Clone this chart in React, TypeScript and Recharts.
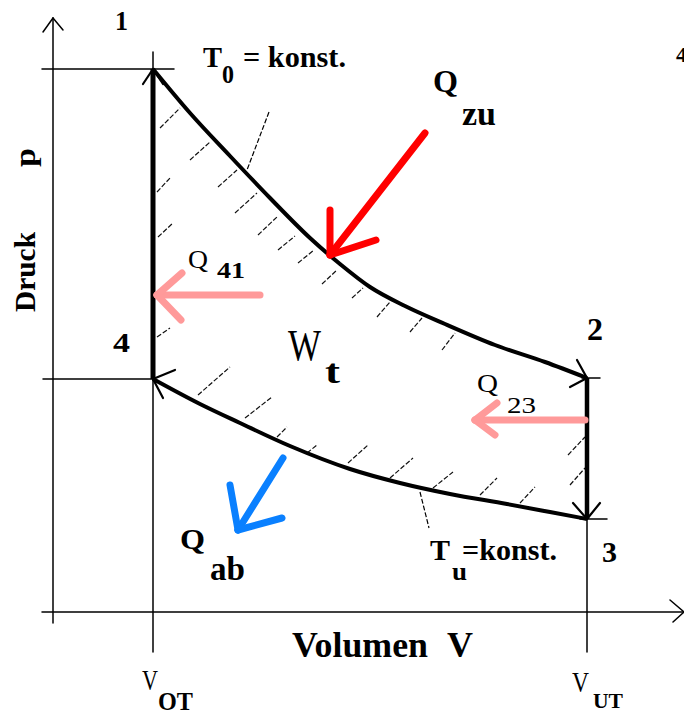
import React from 'react';
import { ComposedChart, Line, XAxis, YAxis, ReferenceLine, ReferenceDot } from 'recharts';

// ---- data (V in arbitrary volume units, p in arbitrary pressure units) ----
const V_OT = 1.0;
const V_UT = 5.34;
const P1 = 5.43;
const P2 = 2.34;
const P3 = 0.93;
const P4 = 2.33;

// isotherm T0 (1 -> 2)
const UPPER_V = [1.0, 1.37, 1.77, 2.17, 2.57, 2.87, 3.17, 3.52, 3.92, 4.42, 4.92, 5.34];
const UPPER_P = [5.43, 4.99, 4.56, 4.14, 3.74, 3.48, 3.25, 3.06, 2.88, 2.67, 2.5, 2.34];
// isotherm Tu (3 -> 4)
const LOWER_V = [1.0, 1.47, 1.87, 2.37, 2.97, 3.47, 3.97, 4.54, 4.97, 5.34];
const LOWER_P = [2.33, 2.08, 1.89, 1.66, 1.43, 1.29, 1.18, 1.08, 1.0, 0.93];

const upperData = UPPER_V.map((V, i) => ({ V, p: UPPER_P[i] }));
const lowerData = LOWER_V.map((V, i) => ({ V, p: LOWER_P[i] }));
const iso41 = [{ V: V_OT, p: P1 }, { V: V_OT, p: P4 }];
const iso23 = [{ V: V_UT, p: P2 }, { V: V_UT, p: P3 }];

// ---- annotation geometry (in data units) ----
type S = [number, number, number, number];

const AXES: S[] = [
  [0, -0.11, 0, 5.94],
  [-0.1, 5.8, 0, 5.94],
  [0.1, 5.82, 0, 5.94],
  [-0.11, 0, 6.31, 0],
  [6.17, 0.12, 6.31, 0],
  [6.2, -0.1, 6.31, 0],
];
const GUIDES: S[] = [
  [-0.11, P1, 1.21, P1],
  [V_OT, P1, V_OT, 5.6],
  [-0.1, P4, V_OT, P4],
  [V_OT, P4, V_OT, -0.4],
  [V_UT, P2, V_UT, -0.4],
  [5.29, P2, 5.47, P2],
  [5.27, P3, 5.54, P3],
];
const HEADS: S[] = [
  [0.9, 5.28, V_OT, P1],
  [1.1, 5.28, V_OT, P1],
  [5.17, 2.25, V_UT, P2],
  [5.24, 2.52, V_UT, P2],
  [5.2, 1.09, V_UT, P3],
  [5.47, 1.09, V_UT, P3],
  [1.22, 2.42, V_OT, P4],
  [1.1, 2.14, V_OT, P4],
];
const LEADERS: S[] = [
  [2.16, 5.0, 1.94, 4.42],
  [3.67, 1.2, 3.76, 0.84],
];
const HATCH: S[] = [
  [1.07, 4.84, 1.27, 5.04],
  [1.37, 4.52, 1.57, 4.7],
  [1.65, 4.25, 1.84, 4.42],
  [1.82, 3.99, 2.04, 4.19],
  [2.05, 3.77, 2.24, 3.95],
  [2.25, 3.62, 2.42, 3.76],
  [2.45, 3.49, 2.61, 3.62],
  [2.69, 3.28, 2.84, 3.42],
  [2.99, 3.14, 3.1, 3.24],
  [3.24, 2.95, 3.37, 3.1],
  [3.57, 2.8, 3.69, 2.94],
  [3.89, 2.62, 4.02, 2.79],
  [1.04, 4.2, 1.17, 4.34],
  [1.05, 3.75, 1.2, 3.89],
  [1.04, 2.75, 1.17, 2.84],
  [1.45, 2.17, 1.77, 2.45],
  [1.92, 1.94, 2.19, 2.15],
  [2.24, 1.75, 2.34, 1.85],
  [2.54, 1.59, 2.64, 1.67],
  [2.95, 1.49, 3.15, 1.67],
  [3.37, 1.34, 3.6, 1.54],
  [3.8, 1.24, 4.0, 1.4],
  [4.27, 1.17, 4.44, 1.34],
  [4.67, 1.09, 4.82, 1.25],
  [5.15, 1.57, 5.32, 1.75],
  [5.17, 1.27, 5.32, 1.44],
];
const ARROW_ZU: S[] = [
  [3.72, 4.79, 2.77, 3.57],
  [2.77, 4.02, 2.77, 3.57],
  [3.23, 3.72, 2.77, 3.57],
];
const ARROW_41: S[] = [
  [2.07, 3.17, 1.04, 3.17],
  [1.29, 3.39, 1.04, 3.17],
  [1.28, 2.92, 1.04, 3.17],
];
const ARROW_23: S[] = [
  [5.32, 1.92, 4.22, 1.92],
  [4.44, 2.09, 4.22, 1.92],
  [4.42, 1.77, 4.22, 1.92],
];
const ARROW_AB: S[] = [
  [2.3, 1.54, 1.85, 0.82],
  [1.77, 1.27, 1.85, 0.82],
  [2.29, 0.94, 1.85, 0.82],
];

// text: [text, V, p, fontSize, bold, width]
type T = [string, number, number, number, boolean, number];
const TEXTS: T[] = [
  ['1', 0.62, 5.82, 27, true, 13],
  ['T', 1.5, 5.45, 30, true, 19],
  ['0', 1.69, 5.29, 25, true, 12],
  ['= konst.', 1.9, 5.45, 30, true, 103],
  ['Q', 3.8, 5.2, 32, true, 25],
  ['zu', 4.09, 4.87, 34, true, 34],
  ['4', 6.23, 5.5, 22, true, 11],
  ['Q', 1.35, 3.44, 25, false, 20],
  ['41', 1.64, 3.34, 24, true, 28],
  ['W', 2.35, 2.52, 44, false, 33],
  ['t', 2.72, 2.29, 34, true, 15],
  ['2', 5.34, 2.72, 32, true, 16],
  ['4', 0.6, 2.6, 28, true, 17],
  ['Q', 4.24, 2.2, 25, false, 21],
  ['23', 4.54, 1.99, 24, false, 29],
  ['T', 3.77, 0.52, 29, true, 20],
  ['u', 3.99, 0.32, 26, true, 15],
  ['=konst.', 4.09, 0.52, 29, true, 95],
  ['3', 5.49, 0.5, 29, true, 15],
  ['Q', 1.27, 0.63, 30, true, 25],
  ['ab', 1.57, 0.32, 34, true, 35],
  ['Volumen', 2.39, -0.45, 35, true, 136],
  ['V', 3.94, -0.45, 35, true, 26],
  ['V', 0.89, -0.78, 29, false, 16],
  ['OT', 1.05, -0.98, 25, true, 35],
  ['V', 5.19, -0.8, 29, false, 17],
  ['UT', 5.4, -0.96, 22, true, 30],
];
// rotated y-axis title parts: [text, V (baseline), p (start), size, width]
const YTITLE: [string, number, number, number, number][] = [
  ['Druck', -0.18, 3.0, 29, 80],
  ['p', -0.18, 4.45, 29, 19],
];

const FONT = '"Liberation Serif", "Times New Roman", serif';

function seg(key: string, s: S, stroke: string, w: number, dash?: string, cap: 'round' | 'butt' = 'round') {
  return (
    <ReferenceLine
      key={key}
      segment={[{ x: s[0], y: s[1] }, { x: s[2], y: s[3] }]}
      ifOverflow="visible"
      stroke={stroke}
      strokeWidth={w}
      shape={(p: any) => (
        <line
          x1={p.x1}
          y1={p.y1}
          x2={p.x2}
          y2={p.y2}
          stroke={stroke}
          strokeWidth={w}
          strokeDasharray={dash}
          strokeLinecap={cap}
        />
      )}
    />
  );
}

function txt(key: string, t: T) {
  const [text, x, y, size, bold, width] = t;
  return (
    <ReferenceDot
      key={key}
      x={x}
      y={y}
      r={0}
      ifOverflow="visible"
      shape={(p: any) => (
        <text
          x={p.cx}
          y={p.cy}
          fontFamily={FONT}
          fontSize={size}
          fontWeight={bold ? 700 : 400}
          fill="#000"
          textLength={width}
          lengthAdjust="spacingAndGlyphs"
        >
          {text}
        </text>
      )}
    />
  );
}

function vtxt(key: string, t: [string, number, number, number, number]) {
  const [text, x, y, size, width] = t;
  return (
    <ReferenceDot
      key={key}
      x={x}
      y={y}
      r={0}
      ifOverflow="visible"
      shape={(p: any) => (
        <text
          x={p.cx}
          y={p.cy}
          transform={`rotate(-90 ${p.cx} ${p.cy})`}
          fontFamily={FONT}
          fontSize={size}
          fontWeight={700}
          fill="#000"
          textLength={width}
          lengthAdjust="spacingAndGlyphs"
        >
          {text}
        </text>
      )}
    />
  );
}

const lineCommon = {
  dataKey: 'p',
  stroke: '#000',
  dot: false,
  activeDot: false,
  legendType: 'none' as const,
  isAnimationActive: false,
};

export default function App() {
  return (
    <div style={{ position: 'absolute', left: 0, top: 0, width: 684, height: 715, background: '#fff' }}>
      <ComposedChart width={684} height={715} margin={{ top: 0, right: 0, bottom: 0, left: 0 }}>
        <XAxis type="number" dataKey="V" domain={[-0.53, 6.31]} allowDataOverflow hide />
        <YAxis type="number" dataKey="p" domain={[-1.03, 6.12]} allowDataOverflow hide />
        {AXES.map((s, i) => seg('ax' + i, s, '#000', 1.5))}
        {GUIDES.map((s, i) => seg('gd' + i, s, '#000', 1.5))}
        {LEADERS.map((s, i) => seg('ld' + i, s, '#000', 1.2, '5 2', 'butt'))}
        {HATCH.map((s, i) => seg('h' + i, s, '#111', 1.2, '5 2', 'butt'))}
        <Line {...lineCommon} data={upperData} type="monotone" strokeWidth={4} />
        <Line {...lineCommon} data={lowerData} type="monotone" strokeWidth={4} />
        <Line {...lineCommon} data={iso41} type="linear" strokeWidth={5} />
        <Line {...lineCommon} data={iso23} type="linear" strokeWidth={4.5} />
        {HEADS.map((s, i) => seg('hd' + i, s, '#000', 2.2))}
        {ARROW_ZU.map((s, i) => seg('zu' + i, s, '#ff0000', 7))}
        {ARROW_41.map((s, i) => seg('q41' + i, s, '#ff9a9a', 7))}
        {ARROW_23.map((s, i) => seg('q23' + i, s, '#ff9a9a', 7))}
        {ARROW_AB.map((s, i) => seg('ab' + i, s, '#0a80ff', 7))}
        {TEXTS.map((t, i) => txt('t' + i, t))}
        {YTITLE.map((t, i) => vtxt('y' + i, t))}
      </ComposedChart>
    </div>
  );
}
